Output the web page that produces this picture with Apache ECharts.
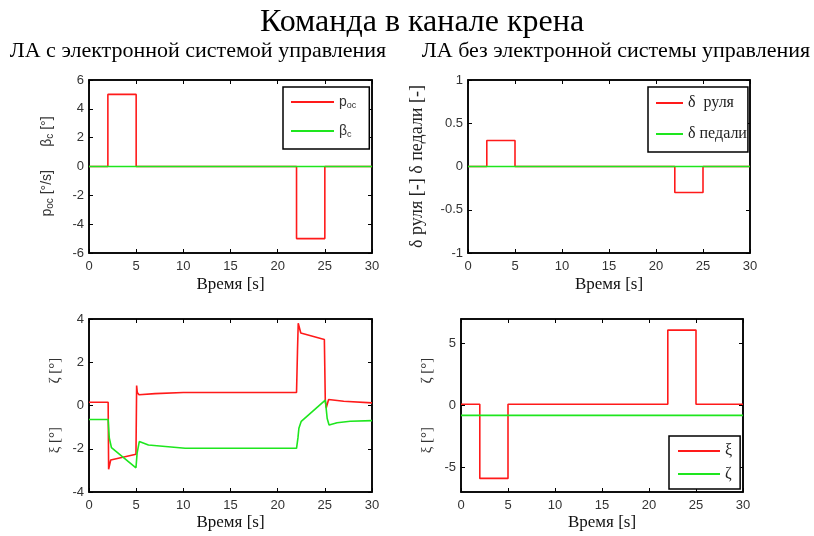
<!DOCTYPE html>
<html><head><meta charset="utf-8">
<script src="https://cdn.jsdelivr.net/npm/echarts@6/dist/echarts.min.js"></script>
<style>html,body{margin:0;padding:0;background:#fff}#c{width:814px;height:536px}</style>
</head><body><div id="c"></div>
<script>
// ---- data ----
const titleText = 'Команда в канале крена';
const subLeft = 'ЛА с электронной системой управления';
const subRight = 'ЛА без электронной системы управления';
const xLabel = 'Время [s]';

const tStep = [0, 2, 2, 5, 5, 22, 22, 25, 25, 30];
const tFlat = [0, 30];

// top-left
const pOc = [0, 0, 5, 5, 0, 0, -5, -5, 0, 0];
const betaC = [0, 0];
// top-right
const deltaRul = [0, 0, 0.3, 0.3, 0, 0, -0.3, -0.3, 0, 0];
const deltaPed = [0, 0];
// bottom-left
const tXiE = [0, 2.03, 2.08, 2.3, 4.98, 5.05, 5.12, 5.3, 7, 10, 22, 22.1, 22.18, 22.45, 24.95, 25.05, 25.15, 25.4, 27, 30];
const xiE  = [0.15, 0.15, -2.95, -2.52, -2.25, 0.92, 0.6, 0.5, 0.55, 0.6, 0.6, 2.5, 3.8, 3.35, 3.05, 0.2, -0.1, 0.28, 0.2, 0.12];
const tZeE = [0, 2.03, 2.15, 2.38, 4.98, 5.1, 5.33, 6.3, 10.2, 22, 22.15, 22.25, 22.5, 25.05, 25.25, 25.45, 26.3, 27.7, 30];
const zeE  = [-0.65, -0.65, -1.5, -1.95, -2.88, -2.2, -1.67, -1.83, -1.98, -1.98, -1.5, -1.05, -0.73, 0.25, -0.6, -0.9, -0.8, -0.73, -0.7];
// bottom-right
const xiN = [0.1, 0.1, -5.9, -5.9, 0.1, 0.1, 6.1, 6.1, 0.1, 0.1];
const zeN = [-0.8, -0.8];

const yTicksTL = {min: -6, max: 6, interval: 2};
const yTicksTR = {min: -1, max: 1, interval: 0.5};
const yTicksBL = {min: -4, max: 4, interval: 2};
const yTicksBR = {min: -7, max: 7, labels: [-5, 0, 5]};

// ---- build ----
const zip = (t, v) => t.map((x, i) => [x, v[i]]);
const RED = '#ff1a1a', GREEN = '#1ee61e';
const grids = [
  {left: 89, top: 80, width: 283, height: 173},
  {left: 468, top: 80, width: 282, height: 173},
  {left: 89, top: 319, width: 283, height: 173},
  {left: 461, top: 319, width: 282, height: 173}
];
const tickLabel = {color: '#333', fontSize: 13, fontFamily: 'Liberation Sans, Arial, sans-serif'};
const serif = 'Liberation Serif, Times New Roman, serif';
const xAxes = [], yAxes = [];
const yCfg = [yTicksTL, yTicksTR, yTicksBL, yTicksBR];
const yNames = [
  '{m|p}{s|oc}{m| [°/s]}       {m|β}{s|c}{m| [°]}',
  '{d|δ руля [-] δ педали [-]}',
  '{g|ξ [°]}             {g|ζ [°]}',
  '{g|ξ [°]}             {g|ζ [°]}'
];
const yGaps = [34, 42, 26, 26];
const xGaps = [23, 23, 22, 22];
const richY = {
  m: {fontSize: 14, fontFamily: 'Liberation Sans, Arial, sans-serif', color: '#333'},
  s: {fontSize: 10, fontFamily: 'Liberation Sans, Arial, sans-serif', color: '#333', verticalAlign: 'bottom', padding: [6, 0, 0, 0]},
  d: {fontSize: 18, fontFamily: serif, color: '#222'},
  g: {fontSize: 15, fontFamily: serif, color: '#333'}
};
grids.forEach((g, i) => {
  xAxes.push({type: 'value', gridIndex: i, min: 0, max: 30, interval: 5, position: 'bottom',
    axisLine: {onZero: false, lineStyle: {color: '#000', width: 1.5}},
    axisTick: {inside: true, length: 4, lineStyle: {color: '#000'}},
    axisLabel: Object.assign({margin: 7}, tickLabel),
    splitLine: {show: false},
    name: xLabel, nameLocation: 'middle', nameGap: xGaps[i],
    nameTextStyle: {fontFamily: serif, fontSize: 17, color: '#111'}});
  xAxes.push({type: 'value', gridIndex: i, min: 0, max: 30, interval: 5, position: 'top',
    axisLine: {onZero: false, lineStyle: {color: '#000', width: 1.5}},
    axisTick: {inside: true, length: 4, lineStyle: {color: '#000'}},
    axisLabel: {show: false}, splitLine: {show: false}});
  const c = yCfg[i];
  const base = {type: 'value', gridIndex: i, min: c.min, max: c.max, splitLine: {show: false}};
  if (c.interval) base.interval = c.interval;
  const tickCustom = c.labels ? {customValues: c.labels} : {};
  yAxes.push(Object.assign({}, base, {position: 'left',
    axisLine: {show: true, onZero: false, lineStyle: {color: '#000', width: 1.5}},
    axisTick: Object.assign({show: true, inside: true, length: 4, lineStyle: {color: '#000'}}, tickCustom),
    axisLabel: Object.assign({margin: 5}, tickLabel, c.labels ? {customValues: c.labels} : {}),
    name: yNames[i], nameLocation: 'middle', nameRotate: 90, nameGap: yGaps[i],
    nameTextStyle: {rich: richY}}));
  yAxes.push(Object.assign({}, base, {position: 'right',
    axisLine: {show: true, onZero: false, lineStyle: {color: '#000', width: 1.5}},
    axisTick: Object.assign({show: true, inside: true, length: 4, lineStyle: {color: '#000'}}, tickCustom),
    axisLabel: {show: false}}));
});

function line(name, data, color, gi) {
  return {type: 'line', name, data, xAxisIndex: gi * 2, yAxisIndex: gi * 2, symbol: 'none',
    lineStyle: {color, width: 1.6}, itemStyle: {color}, silent: true};
}
const series = [
  line('p_oc', zip(tStep, pOc), RED, 0),
  line('β_c', zip(tFlat, betaC), GREEN, 0),
  line('δ руля', zip(tStep, deltaRul), RED, 1),
  line('δ педали', zip(tFlat, deltaPed), GREEN, 1),
  line('ξ_e', zip(tXiE, xiE), RED, 2),
  line('ζ_e', zip(tZeE, zeE), GREEN, 2),
  line('ξ', zip(tStep, xiN), RED, 3),
  line('ζ', zip(tFlat, zeN), GREEN, 3)
];

const legBase = {orient: 'vertical', icon: 'rect', itemHeight: 2, borderColor: '#000', borderWidth: 1.5,
  backgroundColor: '#fff', selectedMode: false};
const legendRich = {
  m: {fontSize: 14, fontFamily: 'Liberation Sans, Arial, sans-serif', color: '#333', lineHeight: 14},
  s: {fontSize: 9, fontFamily: 'Liberation Sans, Arial, sans-serif', color: '#333', verticalAlign: 'bottom', padding: [7, 0, 0, 0]},
  d: {fontSize: 16, fontFamily: serif, color: '#222', lineHeight: 14}
};
const legFmt = {'p_oc': '{m|p}{s|oc}', 'β_c': '{m|β}{s|c}', 'δ руля': '{d|δ  руля}', 'δ педали': '{d|δ педали}', 'ξ': '{d|ξ}', 'ζ': '{d|ζ}'};
const legend = [
  Object.assign({}, legBase, {data: ['p_oc', 'β_c'], left: 283, top: 87, itemWidth: 43, itemGap: 14,
    padding: [8, 13, 10, 8], formatter: n => legFmt[n], textStyle: {rich: legendRich}}),
  Object.assign({}, legBase, {data: ['δ руля', 'δ педали'], left: 648, top: 87, itemWidth: 27, itemGap: 15, itemTextGap: 2,
    padding: [8, 1, 10, 8], formatter: n => legFmt[n], textStyle: {rich: legendRich}}),
  Object.assign({}, legBase, {data: ['ξ', 'ζ'], left: 669, top: 436, itemWidth: 42, itemGap: 7,
    padding: [7, 8, 7, 9], formatter: n => legFmt[n], textStyle: {rich: legendRich}})
];

const chart = echarts.init(document.getElementById('c'), null, {renderer: 'canvas'});
chart.setOption({
  backgroundColor: '#fff',
  animation: false,
  grid: grids.map(g => Object.assign({show: true, borderColor: '#000', borderWidth: 1.5, backgroundColor: '#fff'}, g)),
  xAxis: xAxes, yAxis: yAxes, series, legend,
  graphic: [
    {type: 'text', x: 422, y: 23, style: {text: titleText, font: '32px "Liberation Serif"', fill: '#000', align: 'center', verticalAlign: 'middle'}},
    {type: 'text', x: 198, y: 51, style: {text: subLeft, font: '22px "Liberation Serif"', fill: '#000', align: 'center', verticalAlign: 'middle'}},
    {type: 'text', x: 616, y: 51, style: {text: subRight, font: '22px "Liberation Serif"', fill: '#000', align: 'center', verticalAlign: 'middle'}}
  ]
});
</script></body></html>
